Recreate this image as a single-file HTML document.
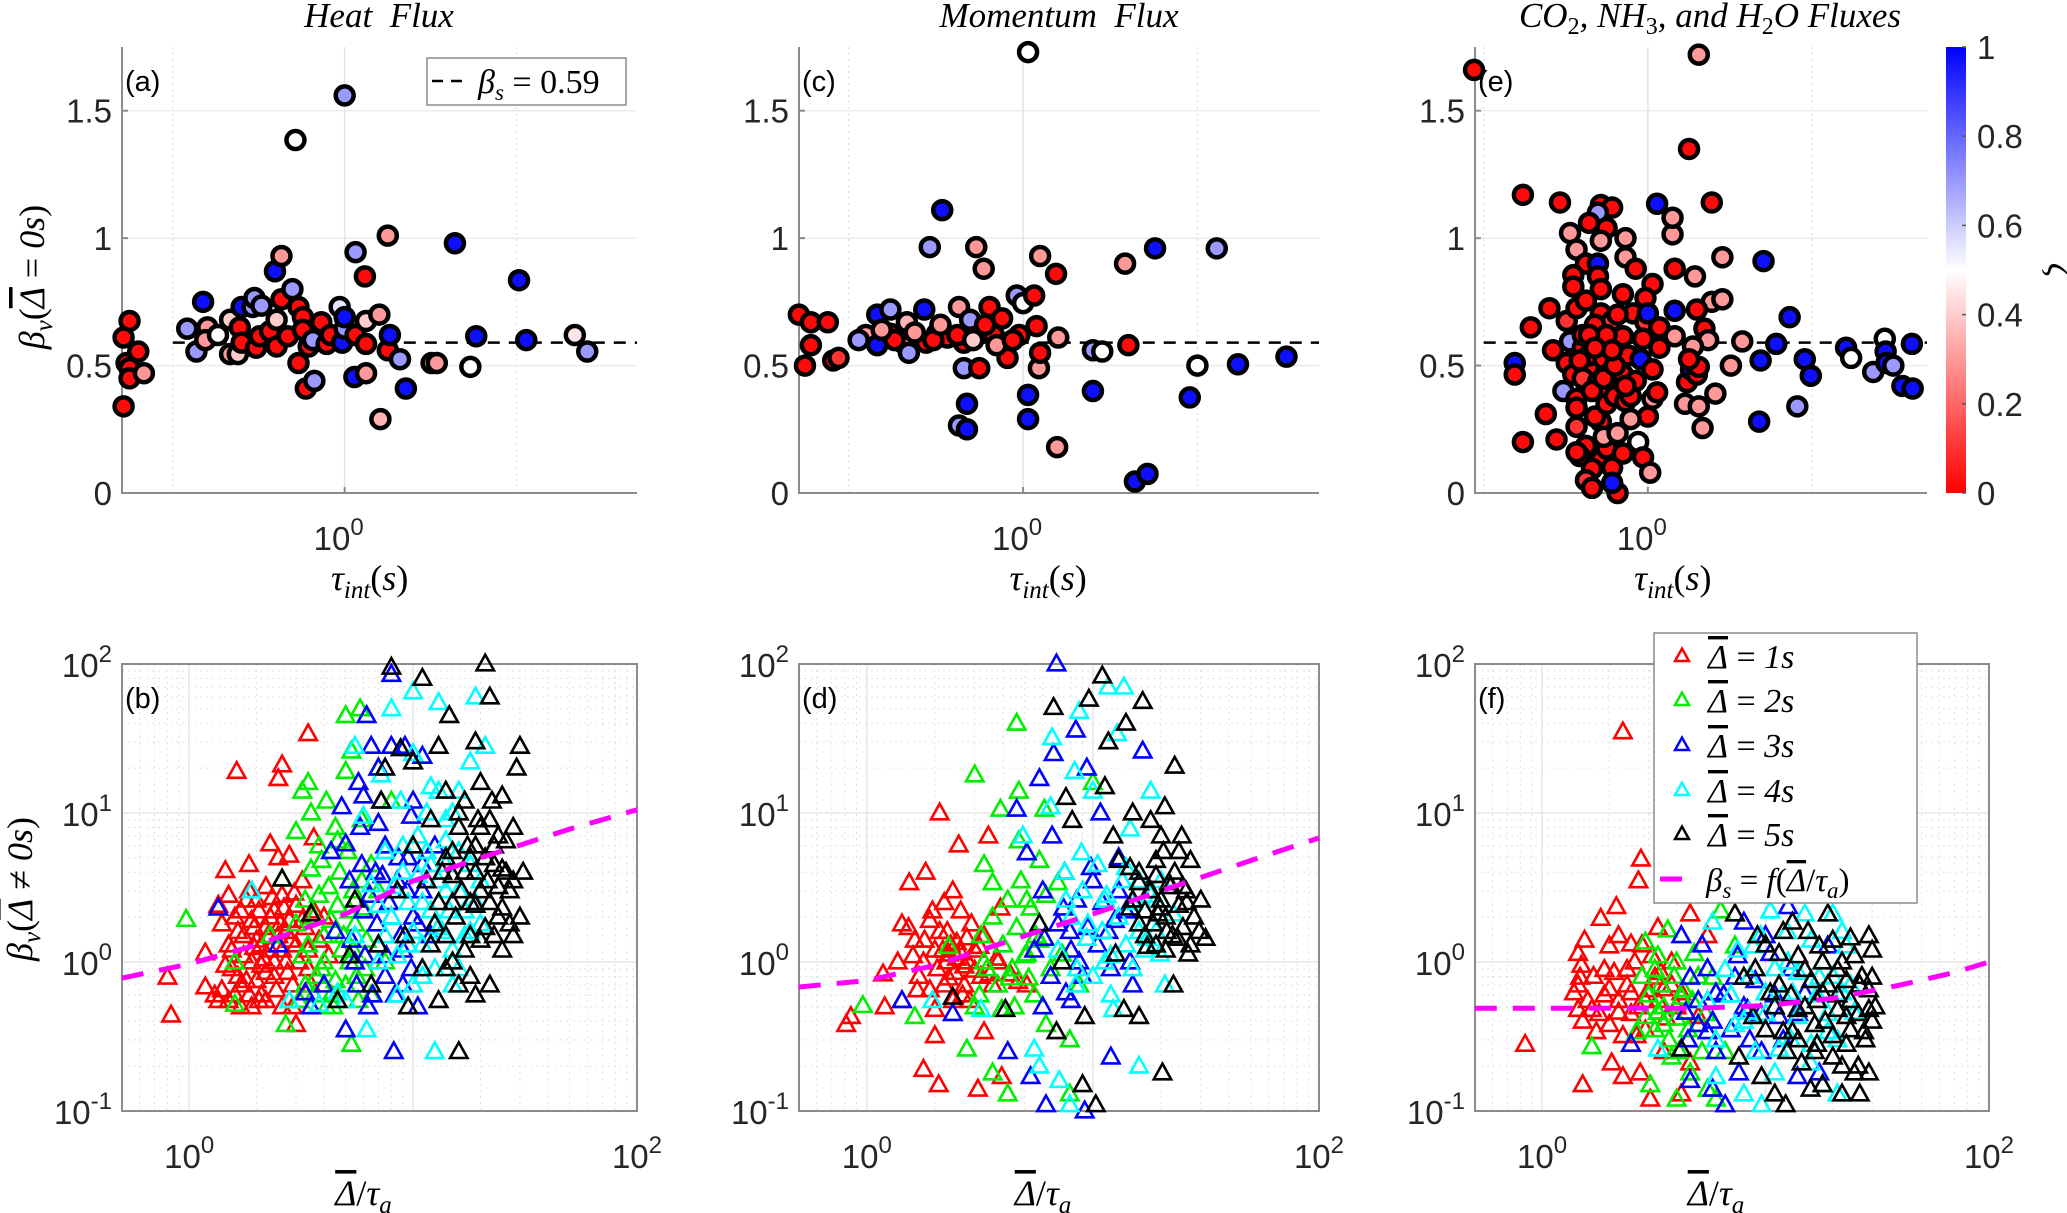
<!DOCTYPE html>
<html><head><meta charset="utf-8">
<style>
html,body{margin:0;padding:0;background:#fff;}
svg{display:block;}
.tick{font-family:"Liberation Sans",sans-serif;font-size:33px;fill:#262626;}
.math{font-family:"Liberation Serif",serif;font-style:italic;fill:#000;}
.lab{font-family:"Liberation Sans",sans-serif;font-size:29px;fill:#000;}
</style></head>
<body>
<svg id="fig" width="2067" height="1213" viewBox="0 0 2067 1213" xmlns="http://www.w3.org/2000/svg"></svg>
<script>
// ---------- top panel data: [tau_int, beta_v, zeta] ----------
const heatPoints = [[0.41,0.34,0.02],[0.42,0.675,0.02],[0.41,0.61,0.02],[0.415,0.51,0.02],[0.42,0.49,0.02],[0.435,0.555,0.02],[0.42,0.45,0.02],[0.445,0.47,0.3],[0.53,0.645,0.7],[0.55,0.555,0.7],[0.565,0.75,0.97],[0.575,0.65,0.3],[0.57,0.6,0.3],[0.6,0.62,0.5],[0.63,0.545,0.3],[0.63,0.68,0.4],[0.65,0.545,0.4],[0.66,0.73,0.97],[0.655,0.65,0.02],[0.66,0.59,0.02],[0.69,0.73,0.7],[0.695,0.765,0.7],[0.715,0.735,0.7],[0.7,0.57,0.02],[0.71,0.615,0.02],[0.74,0.635,0.02],[0.755,0.87,0.97],[0.76,0.68,0.4],[0.76,0.575,0.02],[0.775,0.93,0.3],[0.775,0.76,0.02],[0.795,0.615,0.02],[0.81,0.8,0.7],[0.82,1.385,0.5],[0.83,0.73,0.02],[0.83,0.51,0.02],[0.845,0.69,0.02],[0.845,0.64,0.02],[0.855,0.41,0.02],[0.865,0.575,0.02],[0.88,0.6,0.7],[0.885,0.44,0.7],[0.91,0.67,0.02],[0.93,0.585,0.02],[0.945,0.62,0.02],[0.98,0.73,0.55],[0.99,0.59,0.97],[1.0,0.645,0.7],[1.0,1.56,0.7],[1.0,0.69,0.97],[1.04,0.455,0.97],[1.045,0.945,0.7],[1.045,0.62,0.02],[1.085,0.85,0.02],[1.09,0.47,0.3],[1.09,0.675,0.4],[1.09,0.585,0.02],[1.15,0.7,0.3],[1.19,1.01,0.3],[1.19,0.56,0.02],[1.2,0.62,0.97],[1.155,0.29,0.35],[1.25,0.525,0.7],[1.28,0.41,0.97],[1.42,0.51,0.3],[1.45,0.51,0.3],[1.56,0.98,0.97],[1.66,0.495,0.5],[1.7,0.615,0.97],[2.02,0.835,0.97],[2.08,0.6,0.97],[2.53,0.62,0.45],[2.66,0.555,0.7]];
const momentumPoints = [[0.41,0.7,0.02],[0.42,0.5,0.02],[0.43,0.58,0.02],[0.43,0.67,0.02],[0.46,0.67,0.02],[0.47,0.52,0.02],[0.48,0.53,0.1],[0.535,0.62,0.3],[0.56,0.7,0.97],[0.56,0.58,0.97],[0.59,0.72,0.7],[0.59,0.625,0.02],[0.62,0.59,0.3],[0.63,0.67,0.35],[0.635,0.55,0.7],[0.675,0.72,0.97],[0.68,0.59,0.02],[0.69,0.965,0.7],[0.71,0.625,0.02],[0.725,1.11,0.97],[0.74,0.61,0.02],[0.775,0.73,0.3],[0.775,0.265,0.7],[0.79,0.49,0.7],[0.79,0.59,0.02],[0.8,0.35,0.97],[0.8,0.25,0.97],[0.81,0.68,0.7],[0.83,0.965,0.3],[0.84,0.49,0.02],[0.855,0.88,0.3],[0.875,0.73,0.02],[0.89,0.62,0.02],[0.92,0.685,0.02],[0.94,0.53,0.02],[0.975,0.775,0.7],[0.985,0.62,0.02],[1.0,0.745,0.5],[1.02,0.385,0.97],[1.02,0.29,0.97],[1.045,0.775,0.02],[1.055,0.655,0.02],[1.065,0.49,0.3],[1.07,0.93,0.3],[1.07,0.55,0.02],[1.14,0.86,0.02],[1.145,0.18,0.3],[1.15,0.61,0.3],[1.02,1.73,0.5],[1.32,0.56,0.7],[1.37,0.555,0.5],[1.32,0.4,0.97],[1.5,0.9,0.3],[1.52,0.58,0.02],[1.56,0.045,0.97],[1.64,0.075,0.97],[1.69,0.96,0.97],[1.94,0.375,0.97],[2.0,0.5,0.5],[2.16,0.96,0.7],[2.35,0.505,0.97],[2.85,0.535,0.97],[0.6,0.6,0.02],[0.65,0.63,0.3],[0.7,0.6,0.02],[0.72,0.66,0.3],[0.77,0.62,0.02],[0.82,0.6,0.4],[0.86,0.66,0.02],[0.9,0.58,0.3],[0.96,0.6,0.02],[0.52,0.6,0.7],[0.57,0.64,0.3]];
const scalarPoints = [[0.48,1.66,0.02],[1.24,1.72,0.3],[1.19,1.35,0.02],[0.59,1.17,0.02],[0.69,1.14,0.02],[0.82,1.13,0.02],[0.86,1.12,0.02],[0.81,1.1,0.7],[0.78,1.06,0.02],[0.84,1.04,0.02],[0.72,1.02,0.3],[0.82,0.99,0.3],[0.91,1.0,0.3],[0.74,0.955,0.3],[0.91,0.925,0.3],[0.77,0.9,0.02],[0.81,0.9,0.97],[0.95,0.88,0.02],[0.73,0.855,0.02],[0.81,0.85,0.02],[0.73,0.81,0.02],[0.82,0.8,0.02],[1.02,0.82,0.02],[0.66,0.725,0.02],[0.71,0.675,0.1],[0.61,0.65,0.02],[0.74,0.725,0.02],[0.77,0.755,0.02],[0.82,0.705,0.02],[0.86,0.675,0.1],[0.9,0.78,0.02],[0.94,0.705,0.02],[0.99,0.765,0.02],[0.99,0.67,0.1],[1.05,0.65,0.02],[1.0,0.705,0.97],[1.12,0.88,0.02],[1.11,1.015,0.3],[1.04,1.135,0.97],[1.11,1.08,0.3],[1.12,0.715,0.97],[1.12,0.615,0.3],[1.22,0.85,0.3],[1.31,1.14,0.02],[1.37,0.925,0.3],[1.31,0.75,0.3],[1.37,0.76,0.3],[1.23,0.72,0.02],[1.27,0.645,0.02],[1.29,0.6,0.3],[1.21,0.575,0.3],[0.67,0.56,0.02],[0.71,0.51,0.02],[0.72,0.595,0.7],[0.73,0.465,0.02],[0.7,0.4,0.7],[0.74,0.37,0.02],[0.74,0.335,0.02],[0.76,0.57,0.02],[0.78,0.495,0.02],[0.76,0.45,0.1],[0.78,0.54,0.02],[0.82,0.59,0.02],[0.83,0.525,0.02],[0.81,0.435,0.02],[0.85,0.47,0.02],[0.87,0.59,0.4],[0.88,0.53,0.02],[0.9,0.615,0.02],[0.9,0.465,0.02],[0.92,0.54,0.02],[0.95,0.44,0.02],[0.97,0.525,0.97],[0.98,0.605,0.02],[1.02,0.485,0.02],[1.02,0.37,0.3],[1.04,0.395,0.02],[1.05,0.57,0.02],[1.0,0.3,0.02],[0.93,0.29,0.3],[0.96,0.2,0.5],[0.98,0.14,0.02],[1.01,0.08,0.3],[0.85,0.395,0.02],[0.82,0.28,0.02],[0.8,0.3,0.02],[0.84,0.35,0.02],[0.87,0.38,0.02],[0.91,0.36,0.02],[0.93,0.38,0.02],[0.74,0.26,0.1],[0.77,0.185,0.02],[0.75,0.145,0.02],[0.74,0.16,0.02],[0.82,0.13,0.02],[0.84,0.175,0.02],[0.86,0.1,0.02],[0.79,0.095,0.02],[0.77,0.05,0.1],[0.79,0.02,0.02],[0.88,0.0,0.02],[0.86,0.04,0.97],[0.9,0.155,0.02],[0.83,0.22,0.3],[0.88,0.235,0.3],[0.65,0.31,0.02],[0.59,0.2,0.02],[0.68,0.21,0.02],[0.57,0.51,0.97],[0.57,0.465,0.02],[1.17,0.35,0.3],[1.18,0.435,0.02],[1.24,0.34,0.3],[1.26,0.255,0.3],[1.33,0.39,0.3],[1.2,0.485,0.97],[1.23,0.465,0.02],[1.24,0.495,0.02],[1.19,0.525,0.02],[1.42,0.5,0.3],[1.49,0.595,0.3],[1.61,0.52,0.97],[1.63,0.91,0.97],[1.72,0.585,0.97],[1.6,0.28,0.97],[1.82,0.69,0.97],[1.88,0.34,0.7],[1.94,0.525,0.97],[1.99,0.46,0.97],[2.31,0.57,0.97],[2.36,0.53,0.5],[2.59,0.475,0.7],[2.72,0.605,0.5],[2.73,0.555,0.97],[2.74,0.51,0.97],[2.82,0.5,0.7],[2.93,0.42,0.97],[3.06,0.41,0.97],[3.05,0.585,0.97],[0.76,0.62,0.02],[0.8,0.66,0.02],[0.84,0.62,0.02],[0.88,0.7,0.02],[0.79,0.4,0.02],[0.83,0.45,0.02],[0.87,0.5,0.02],[0.91,0.42,0.02],[0.78,0.62,0.02],[0.86,0.56,0.02],[0.8,0.57,0.02],[0.75,0.52,0.02]];
const betaS = 0.59;

// ---------- bottom panel data: [Delta/tau_a, beta_v] per Delta series ----------
const heatD1 = [[0.8,0.79],[0.83,0.44],[1.18,1.15],[1.18,0.68],[1.3,0.6],[1.35,0.55],[1.4,0.65],[1.35,2.4],[1.4,1.8],[1.45,4.1],[1.5,2.8],[1.5,1.3],[1.55,0.9],[1.6,0.6],[1.63,19],[1.65,1.6],[1.7,2.2],[1.75,1.1],[1.8,0.75],[1.85,4.5],[1.85,3.0],[1.9,1.9],[1.9,0.5],[2.0,1.4],[2.0,2.6],[2.1,0.95],[2.1,0.6],[2.2,3.2],[2.2,1.7],[2.3,6.2],[2.3,1.2],[2.4,2.2],[2.4,0.8],[2.5,17],[2.5,1.5],[2.5,5.0],[2.6,21],[2.6,2.8],[2.6,0.5],[2.7,1.0],[2.8,5.2],[2.8,1.9],[2.9,0.7],[3.0,2.4],[3.0,1.3],[3.1,0.55],[3.2,3.5],[3.3,1.7],[3.4,34],[3.4,0.9],[3.6,6.8],[3.6,2.2],[3.8,1.4],[4.0,2.0],[4.2,1.1],[2.2,0.55],[1.7,0.5],[2.0,0.75],[3.0,0.38],[2.3,2.0],[2.7,1.6],[1.95,1.25],[2.15,1.05],[1.45,0.95],[1.55,1.2],[1.6,2.0],[1.7,0.7],[1.75,1.5],[1.8,2.6],[1.85,0.6],[1.9,1.0],[1.95,1.7],[2.05,2.2],[2.05,0.55],[2.1,1.3],[2.2,0.85],[2.25,1.5],[2.35,2.7],[2.4,1.0],[2.45,0.65],[2.55,1.8],[2.6,1.2],[2.65,2.3],[2.75,0.85],[2.85,1.4],[2.95,2.9],[3.1,1.0],[3.2,1.9],[3.4,1.2],[3.5,0.7],[1.5,0.55],[2.9,0.5],[1.65,0.8]];
const heatD2 = [[0.97,1.93],[1.6,0.52],[1.6,1.0],[2.3,1.5],[2.6,3.6],[2.7,0.38],[2.8,0.55],[3.0,7.5],[3.2,14],[3.2,1.1],[3.3,0.7],[3.4,16],[3.5,10],[3.5,4.2],[3.6,2.0],[3.8,6.0],[3.9,0.9],[4.0,1.5],[4.1,12],[4.2,3.2],[4.3,0.6],[4.5,8.0],[4.6,2.4],[4.8,1.2],[5.0,19],[5.0,45],[5.1,5.5],[5.3,26],[5.3,0.28],[5.4,3.0],[5.5,1.8],[5.6,0.8],[5.8,50],[5.9,9.0],[6.0,2.3],[6.2,1.4],[6.5,4.5],[6.5,0.6],[7.0,20],[7.0,3.0],[7.5,1.0],[8.0,12],[4.4,0.5],[3.7,0.8],[5.2,1.0],[3.0,1.8],[3.1,0.55],[3.3,2.6],[3.4,1.3],[3.6,0.6],[3.8,2.8],[4.0,1.0],[4.1,0.5],[4.3,1.9],[4.5,0.75],[4.7,4.0],[4.9,1.5],[5.0,0.7],[5.2,2.2],[5.4,1.2],[5.7,0.55],[5.9,3.5],[6.1,0.9],[4.6,6.5],[3.9,4.8]];
const heatD3 = [[1.35,2.3],[2.5,1.3],[3.3,0.62],[3.5,0.5],[4.0,0.7],[4.3,5.5],[4.5,1.6],[4.8,11],[5.0,6.2],[5.0,0.35],[5.2,3.5],[5.5,1.0],[5.7,16],[5.8,8.0],[6.0,2.2],[6.2,45],[6.3,0.5],[6.5,28],[6.8,4.0],[7.0,1.3],[7.2,12],[7.5,6.0],[7.5,0.8],[7.8,2.5],[8.0,85],[8.0,28],[8.2,0.25],[8.5,3.5],[8.8,1.5],[9.0,0.7],[9.2,28],[9.5,5.0],[10,2.0],[10,12],[10.5,0.5],[11,3.0],[11,24],[12,1.5],[12.5,6],[9.8,9.5],[7.0,8.5],[5.3,1.4],[5.6,0.7],[5.9,4.5],[6.1,1.1],[6.4,2.8],[6.6,0.6],[6.9,1.8],[7.3,3.8],[7.6,1.1],[8.0,2.0],[8.3,0.6],[8.6,5],[9.0,1.2],[9.4,3],[9.8,0.9],[10.5,1.8],[11,4.5],[6.0,13],[7.0,20]];
const heatD4 = [[1.9,3.0],[2.8,0.55],[3.8,0.52],[4.6,0.62],[5.0,0.55],[5.5,1.5],[5.5,28],[6.0,9.5],[6.2,0.35],[6.5,3.3],[7.0,1.0],[7.2,18],[7.5,5.5],[8.0,50],[8.0,2.0],[8.5,0.6],[8.8,12],[9.0,4.0],[9.5,1.3],[10,65],[10,25],[10.5,7],[11,2.5],[11,0.8],[12,15],[12,4.5],[12.5,0.25],[13,1.7],[13,55],[14,9],[14,3],[15,0.7],[15,1.2],[16,5.5],[16,14],[17,2.2],[18,22],[19,60],[21,28],[18,1.6],[20,3.5],[14,6.5],[11.5,10],[16,0.9],[7.0,2.4],[7.5,1.5],[8.2,3.2],[8.5,1.1],[9,6],[9.5,2.5],[10,1.6],[10,0.7],[10.5,3.8],[11,1.3],[11.5,5.5],[12,2.2],[12.5,0.9],[13,3.5],[13.5,1.6],[14,4.5],[14.5,2.2],[15,1.0],[16,3],[17,1.5],[18,4.5],[19,2.5],[20,1.8],[13,14],[15,10]];
const heatD5 = [[2.6,3.6],[3.5,2.1],[4.6,0.55],[5.2,1.1],[5.5,2.6],[6.5,0.7],[7.0,1.3],[7.2,12],[7.5,20],[8.0,95],[8.5,3.0],[8.8,27],[9.2,1.5],[9.5,0.5],[10,22],[10,6],[11,0.9],[11,80],[11.5,3.5],[12,9],[12.5,1.8],[13,28],[13,0.55],[14,5],[14,14],[14.5,45],[15,2.5],[15,1.0],[16,8],[16,0.25],[17,4],[17,12],[18,1.5],[18,0.8],[19,30],[19,6],[20,3],[20,16],[21,1.7],[21,100],[22,9],[22,60],[23,4.5],[24,2.0],[25,13],[25,1.2],[26,6.5],[27,3],[28,8],[29,20],[30,2],[31,4],[30,28],[20,8],[23,6],[18,5],[15,3.8],[25,4.2],[19,2.4],[28,1.5],[12,1.3],[13,2.5],[13.5,4],[14,1.5],[15,5.5],[15.5,2],[16,10],[16.5,3],[17,1.2],[17.5,6],[18,2.5],[19,4],[19.5,9],[20,1.4],[21,5],[21.5,3.5],[22,2.5],[22.5,12],[23,1.5],[24,7],[24,3.2],[25,2.3],[26,4],[27,1.8],[28,3.5],[22,0.7],[16,0.7],[14,0.9],[19,0.6]];
const momD1 = [[0.81,0.38],[0.85,0.43],[1.18,0.83],[1.2,0.5],[1.37,1.0],[1.54,3.4],[1.43,1.8],[1.53,1.7],[1.63,1.4],[1.67,0.65],[1.43,0.55],[1.78,1.0],[1.82,4.0],[1.95,2.2],[2.0,0.48],[2.1,10],[2.17,1.2],[2.27,1.6],[2.3,0.78],[2.4,3.0],[2.5,1.06],[2.55,6.1],[2.65,0.6],[2.77,1.45],[2.9,1.8],[3.0,0.88],[2.0,0.32],[1.78,0.19],[2.08,0.15],[3.1,0.14],[3.3,0.34],[3.45,7],[3.5,0.83],[3.9,2.3],[3.95,0.17],[4.3,0.83],[5.1,0.7],[2.5,1.35],[2.3,1.13],[2.7,0.94],[3.15,1.27],[3.76,1.06],[4.67,0.74],[1.6,1.1],[1.7,0.8],[1.8,1.4],[1.9,0.65],[2.0,1.2],[2.05,0.9],[2.1,1.6],[2.2,0.7],[2.25,1.0],[2.35,1.3],[2.4,0.55],[2.45,0.85],[2.6,1.15],[2.7,0.7],[2.8,1.0],[2.85,0.55],[3.0,1.2],[3.2,0.8],[3.3,1.5],[3.6,0.7],[3.8,1.0],[2.2,2.5],[1.9,1.9],[2.6,2.2]];
const momD2 = [[0.96,0.51],[1.63,0.43],[2.3,1.27],[2.77,0.26],[3.0,18],[3.3,4.5],[3.6,3.4],[3.9,10.6],[3.95,0.48],[4.2,0.13],[3.6,0.18],[4.6,40],[4.7,6.5],[4.7,14],[5.1,2.6],[5.2,0.78],[5.6,1.5],[6.1,10.6],[6.2,0.38],[7.0,3.4],[7.3,1.13],[7.9,0.3],[7.9,0.13],[8.7,0.7],[10,16],[3.3,1.0],[4.3,0.78],[5.8,4.8],[3.15,0.6],[5.1,1.13],[3.2,1.5],[3.4,0.9],[3.6,2.0],[3.8,0.7],[4.0,1.3],[4.2,2.6],[4.4,0.9],[4.6,1.7],[4.8,3.5],[5.0,1.1],[5.3,2.3],[5.5,0.6],[5.8,1.4],[6.2,2.8],[6.5,0.9],[3.0,0.5],[4.5,0.5]];
const momD3 = [[1.43,0.55],[2.4,0.45],[4.2,0.25],[4.6,10.6],[5.1,5.4],[5.3,0.17],[5.8,17],[6.1,1.44],[6.2,0.11],[6.6,7],[6.7,25],[6.9,100],[7.4,2.3],[7.6,0.62],[8.4,36],[8.7,1.0],[9.2,0.1],[9.4,20],[9.8,4.3],[10.8,10],[12,0.23],[13,3],[14.6,1.0],[16.6,26],[15,0.7],[7.9,1.6],[11.7,1.6],[5.5,1.2],[6,3],[6.5,0.8],[7,1.8],[7.5,4],[8,1.2],[8.5,2.6],[9,0.8],[9.5,1.7],[10,3.5],[10.5,1.3],[11,2.5],[12,0.9],[12.5,1.9],[13,5],[14,2.2],[6,0.5],[8,0.55]];
const momD4 = [[1.95,0.55],[3.2,0.48],[4.9,7],[5.5,0.26],[5.8,0.2],[6.5,11],[6.6,32],[7.1,0.16],[7.6,2.6],[7.9,0.11],[8.3,19],[8.4,0.7],[8.7,48],[8.9,5.4],[9.4,1.44],[10,14],[11.3,2.6],[11.7,70],[12.3,0.48],[12.8,34],[13.7,70],[14.6,7.8],[16,0.2],[16,1.6],[18,14],[19,2.6],[19.8,1.13],[20.8,0.7],[22.7,2.1],[11.3,1.0],[14,4.3],[17.4,1.44],[7,1.2],[7.5,4],[8,2],[8.5,0.9],[9,3],[9.5,1.8],[10,0.8],[10.5,4.5],[11,1.6],[11.5,2.8],[12,1.1],[13,2],[13.5,3.5],[14,1.3],[15,2.5],[16,3.5],[17,1.2],[18,2.8],[19,1.6],[20,3.5],[12,0.6],[15,0.9]];
const momD5 = [[2.4,0.58],[4.1,0.48],[5.8,1.8],[6.9,0.34],[7.3,1.0],[6.7,51],[7.6,12.7],[8.1,8.9],[9.0,0.15],[9.2,0.43],[9.6,58],[10.3,0.11],[11,83],[11.3,15],[11.7,30],[12.3,7],[12.6,1.13],[13,4.8],[13.7,0.48],[14,40],[14.6,2.3],[15,10],[16,3.4],[16,0.43],[16.6,56],[17.4,1.27],[18,8.9],[19,4.8],[19.8,2.3],[20.3,0.18],[20.8,11],[21.7,3.4],[22.7,0.7],[23,20.6],[23.7,1.44],[24.7,7],[25.8,3],[26.4,1.13],[27,4.8],[29.5,1.6],[31.5,1.44],[17.8,3],[19.4,2.1],[16,1.8],[21.2,1.6],[14.6,4.3],[15,2.6],[16,4],[17,2.2],[18,3],[18.5,1.8],[19,3.8],[20,2.6],[20.5,5.5],[21,2],[22,3.2],[22.5,1.5],[23,4],[24,2.4],[25,3.2],[25,1.7],[26,2.5],[28,2],[30,2.6],[19,1.3],[17,1.5],[21,1.2],[24,5.5],[20,7],[27,1.3]];
const scD1 = [[0.84,0.28],[1.52,0.15],[2.3,35],[2.77,4.9],[2.7,3.5],[2.15,2.35],[1.83,1.96],[1.55,1.4],[1.45,1.14],[1.48,0.79],[1.39,0.62],[1.45,0.48],[1.52,0.4],[1.67,0.48],[1.75,0.34],[2.0,1.28],[2.0,0.66],[2.05,0.21],[2.2,0.46],[2.3,0.17],[2.5,1.32],[2.5,0.62],[2.65,0.32],[2.75,0.18],[3.05,0.12],[3.2,0.79],[3.3,1.7],[3.3,0.46],[3.5,0.25],[3.8,1.0],[4.2,0.62],[4.6,2.1],[4.6,0.21],[5.0,0.43],[5.5,1.5],[4.2,0.13],[1.9,0.89],[2.9,0.55],[2.4,0.89],[3.5,0.66],[1.6,0.55],[1.7,0.8],[1.8,0.45],[1.9,0.6],[2.0,0.38],[2.1,0.85],[2.2,0.55],[2.3,0.32],[2.4,0.7],[2.5,0.45],[2.6,1.0],[2.7,0.5],[2.8,0.8],[2.9,0.35],[3.0,0.65],[3.1,1.1],[3.3,0.55],[3.4,0.85],[3.6,0.42],[3.8,0.7],[4.0,0.5],[1.5,0.95],[1.45,0.7],[2.2,1.5],[2.8,1.3]];
const scD2 = [[1.67,0.27],[2.65,0.34],[2.9,1.36],[3.05,0.15],[3.2,0.89],[3.3,0.46],[3.65,1.64],[3.8,0.23],[4.0,0.12],[4.2,0.58],[4.6,0.18],[4.8,1.14],[5.0,0.38],[5.5,0.14],[5.8,0.79],[6.0,0.12],[6.3,2.2],[6.6,0.25],[7.3,1.28],[2.9,0.43],[3.5,0.38],[4.4,0.46],[3.0,0.6],[3.2,0.35],[3.4,0.7],[3.5,0.5],[3.7,0.3],[3.9,0.8],[4.0,0.42],[4.1,0.25],[4.3,0.65],[4.5,0.35],[4.7,0.55],[5.0,0.8],[5.2,0.25],[5.4,0.45],[3.3,1.1],[4.0,1.0],[2.8,0.8]];
const scD3 = [[2.5,0.28],[4.2,1.5],[4.4,0.46],[4.6,0.79],[4.6,0.16],[5.5,0.34],[5.8,0.14],[6.6,0.11],[7.3,0.79],[7.6,0.18],[8.0,1.85],[8.3,0.48],[9.6,0.25],[10.5,1.14],[11.5,0.43],[12.6,2.35],[13.9,0.17],[15,0.62],[17.4,0.18],[19,1.28],[5.0,0.38],[6.0,0.62],[5,0.55],[5.5,0.9],[5.8,0.4],[6,0.25],[6.5,0.6],[7,0.35],[7.5,1.1],[8,0.5],[8.5,0.3],[9,0.75],[9.5,0.45],[10,1.5],[11,0.6],[12,0.3],[13,0.9],[14,0.45],[4.5,0.3],[5.2,1.3]];
const scD4 = [[3.3,0.26],[5.5,0.55],[5.8,1.85],[6.0,0.17],[6.6,0.89],[7.3,0.38],[8.0,0.13],[8.8,1.28],[9.6,0.11],[10,0.62],[10.5,2.2],[11.5,0.26],[12.6,1.0],[13.9,0.43],[15,2.1],[15.9,0.21],[17.4,0.79],[19,0.34],[20,2.1],[21,0.13],[22,0.62],[23,1.28],[25,0.46],[18,0.15],[8.4,0.46],[13.2,0.62],[6,0.3],[7,0.6],[7.5,1.2],[8,0.4],[8.5,0.8],[9,0.25],[9.5,1.5],[10,0.45],[11,0.9],[11,0.18],[12,0.6],[12.5,1.6],[13,0.3],[14,0.85],[15,0.5],[16,1.4],[16,0.28],[17,0.6],[18,1.0],[19,0.45],[20,0.8],[21,0.3],[22,1.6],[24,0.7]];
const scD5 = [[4.2,0.26],[7.3,2.1],[7.6,0.23],[8.0,0.79],[8.8,0.43],[9.2,1.5],[9.6,0.17],[10.5,0.62],[11,0.13],[11.5,1.14],[12,0.34],[12.3,0.11],[13.2,1.85],[13.9,0.48],[14.5,0.21],[15,0.89],[15.9,0.14],[16.6,0.38],[17.4,1.28],[18,0.62],[19,2.1],[20,0.23],[21,0.89],[22,0.13],[23,0.43],[24,1.45],[25,0.18],[26.4,0.7],[26.4,0.13],[27.6,0.34],[29,1.5],[29,0.18],[29,0.48],[30,0.79],[30,0.4],[21,0.48],[16.6,0.25],[13.2,0.34],[23,0.28],[9,0.9],[10,0.35],[10,1.3],[11,0.5],[11.5,0.7],[12,1.6],[12.5,0.25],[13,0.6],[14,1.1],[14,0.3],[15,0.5],[15.5,1.6],[16,0.75],[17,0.28],[17,0.55],[18,1.0],[18.5,0.4],[19,0.7],[20,1.4],[20,0.32],[21,0.6],[22,1.0],[22,0.2],[23,0.75],[24,0.35],[24,0.55],[25,1.1],[26,0.45],[27,0.8],[28,0.3],[29,0.65],[30,1.2],[31,0.5],[18,0.15],[26,0.2]];
// fitted beta_s = f(Delta/tau_a) curves
const heatCurve = [[0.5,0.78],[1,0.97],[2,1.3],[5,2.1],[10,3.5],[20,5],[50,7.8],[100,10.5]];
const momCurve = [[0.5,0.68],[1,0.75],[2,0.95],[5,1.5],[10,2.1],[20,3.0],[50,4.8],[100,6.8]];
const scCurve = [[0.5,0.49],[2,0.49],[5,0.49],[10,0.51],[20,0.57],[40,0.7],[70,0.85],[100,1.0]];
const seriesColors = ['#ff0000','#00ee00','#0000ff','#00ffff','#000000'];
const seriesLabels = ['1s','2s','3s','4s','5s'];
const topYTicks = [0,0.5,1,1.5];
const topYTickLabels = ['0','0.5','1','1.5'];
const cbTicks = [0,0.2,0.4,0.6,0.8,1];
const cbTickLabels = ['0','0.2','0.4','0.6','0.8','1'];

const NS='http://www.w3.org/2000/svg';
const svg=document.getElementById('fig');
function mk(tag,attrs,parent){const e=document.createElementNS(NS,tag);for(const k in attrs)e.setAttribute(k,attrs[k]);(parent||svg).appendChild(e);return e;}
function zetaColor(z){let r,g,b;if(z<0.5){const t=z/0.5;r=255;g=Math.round(255*t);b=Math.round(255*t);}else{const t=(z-0.5)/0.5;r=Math.round(255*(1-t));g=Math.round(255*(1-t));b=255;}return 'rgb('+r+','+g+','+b+')';}

const topPanels=[
 {id:'a',x0:122,x1:637,l0:-0.39,l1:0.512,pts:heatPoints,title:'Heat Flux',tx:379},
 {id:'c',x0:799,x1:1319,l0:-0.387,l1:0.511,pts:momentumPoints,title:'Momentum Flux',tx:1059},
 {id:'e',x0:1475,x1:1927,l0:-0.317,l1:0.512,pts:scalarPoints,title:null,tx:1710}];
const TY0=493,TY1=47,TYMAX=1.75;
function topY(v){return TY0-(v/TYMAX)*(TY0-TY1);}
function topX(p,v){return p.x0+(Math.log10(v)-p.l0)/(p.l1-p.l0)*(p.x1-p.x0);}

topPanels.forEach(p=>{
 const g=mk('g',{});
 
 
 topYTicks.forEach(t=>{if(t>0){const l=mk('line',{x1:p.x0,x2:p.x1,y1:topY(t),y2:topY(t),stroke:'#ececec','stroke-width':1.5},g);}});
 [0.5,1,2].forEach(v=>{const l=mk('line',{x1:topX(p,v),x2:topX(p,v),y1:TY1,y2:TY0,stroke:'#e4e4e4','stroke-width':1.5,'stroke-dasharray':v===1?'':'2,4'},g);});
 const ax=mk('path',{d:`M${p.x0},${TY1}V${TY0}H${p.x1}`,fill:'none',stroke:'#8c8c8c','stroke-width':2},g);
 
 topYTicks.forEach((t,i)=>{mk('line',{x1:p.x0,x2:p.x0+6,y1:topY(t),y2:topY(t),stroke:'#8c8c8c','stroke-width':2},g);
  const tx=mk('text',{x:p.x0-10,y:topY(t)+12,'text-anchor':'end',class:'tick'},g);tx.textContent=topYTickLabels[i];});
 mk('line',{x1:topX(p,1),x2:topX(p,1),y1:TY0,y2:TY0-6,stroke:'#8c8c8c','stroke-width':2},g);
 const xt=mk('text',{x:topX(p,1)-6,y:550,'text-anchor':'middle',class:'tick'},g);xt.innerHTML='10<tspan dy="-15" font-size="24">0</tspan>';
 
 const xl=mk('text',{x:topX(p,1)+25,y:590,'text-anchor':'middle',class:'math','font-size':36},g);
 xl.innerHTML='τ<tspan dy="8" font-size="25">int</tspan><tspan dy="-8" font-style="normal">(</tspan>s<tspan font-style="normal">)</tspan>';
 
 const dl=mk('line',{x1:topX(p,0.5),x2:p.x1,y1:topY(betaS),y2:topY(betaS),stroke:'#000','stroke-width':2.5,'stroke-dasharray':'12,9'},g);
 
 p.pts.forEach(d=>{const c=mk('circle',{cx:topX(p,d[0]),cy:topY(d[1]),r:9,fill:zetaColor(d[2]),stroke:'#000','stroke-width':4.5},g);
  
  });
 const pl=mk('text',{x:p.x0+3,y:91,class:'lab'},g);pl.textContent='('+p.id+')';
 if(p.title){const t=mk('text',{x:p.tx,y:27,'text-anchor':'middle',class:'math','font-size':35},g);t.textContent=p.title.replace(' ','\u00a0\u00a0');}
});
(function(){const t=mk('text',{x:1710,y:27,'text-anchor':'middle',class:'math','font-size':35});
 t.innerHTML='CO<tspan dy="7" font-size="24" font-style="normal">2</tspan><tspan dy="-7">,  NH</tspan><tspan dy="7" font-size="24" font-style="normal">3</tspan><tspan dy="-7">,  and  H</tspan><tspan dy="7" font-size="24" font-style="normal">2</tspan><tspan dy="-7">O  Fluxes</tspan>';
 })();
(function(){const t=mk('text',{x:0,y:0,'text-anchor':'middle',class:'math','font-size':36,transform:'translate(44,277) rotate(-90)'});
 t.innerHTML='β<tspan dy="8" font-size="25">v</tspan><tspan dy="-8" font-style="normal">(</tspan><tspan text-decoration="overline">Δ</tspan><tspan font-style="normal"> = </tspan>0s<tspan font-style="normal">)</tspan>';
 })();
(function(){const g=mk('g',{});
 mk('rect',{x:427,y:58,width:199,height:47,fill:'#fff',stroke:'#8c8c8c','stroke-width':1.5},g);
 mk('line',{x1:432,x2:468,y1:81,y2:81,stroke:'#000','stroke-width':2.5,'stroke-dasharray':'11,8'},g);
 const t=mk('text',{x:478,y:93,class:'math','font-size':34},g);t.innerHTML='β<tspan dy="7" font-size="23">s</tspan><tspan dy="-7" font-style="normal"> = 0.59</tspan>';})();
(function(){const g=mk('g',{});
 const defs=mk('defs',{},g);const lg=mk('linearGradient',{id:'cb',x1:0,y1:1,x2:0,y2:0},defs);
 mk('stop',{offset:'0','stop-color':'#ff0000'},lg);mk('stop',{offset:'0.5','stop-color':'#ffffff'},lg);mk('stop',{offset:'1','stop-color':'#0000ff'},lg);
 mk('rect',{x:1946,y:47,width:20,height:446,fill:'url(#cb)'},g);
 cbTicks.forEach((t,i)=>{const y=493-t*446;mk('line',{x1:1962,x2:1966,y1:y,y2:y,stroke:'#555','stroke-width':1.5},g);
  const tx=mk('text',{x:1977,y:y+12,class:'tick'},g);tx.textContent=cbTickLabels[i];});
 const z=mk('text',{x:0,y:0,'text-anchor':'middle',class:'math','font-size':36,transform:'translate(2048,270) rotate(90)'},g);z.textContent='ζ';})();

const botPanels=[
 {id:'b',x0:122,x1:637,series:[heatD1,heatD2,heatD3,heatD4,heatD5],curve:heatCurve},
 {id:'d',x0:799,x1:1319,series:[momD1,momD2,momD3,momD4,momD5],curve:momCurve},
 {id:'f',x0:1475,x1:1989,series:[scD1,scD2,scD3,scD4,scD5],curve:scCurve}];
const BY0=1111,BY1=664,BL0=-0.3,BL1=2;
function botY(v){return BY0-(Math.log10(v)+1)/3*(BY0-BY1);}
function botX(p,v){return p.x0+(Math.log10(v)-BL0)/(BL1-BL0)*(p.x1-p.x0);}
function tri(x,y,s){return `M${x},${y-s*0.62}L${x+s*0.58},${y+s*0.42}L${x-s*0.58},${y+s*0.42}Z`;}
botPanels.forEach(p=>{
 const g=mk('g',{});
 for(let d=-1;d<=1;d++)for(let m=1;m<10;m++){const v=m*Math.pow(10,d);const y=botY(v);
  mk('line',{x1:p.x0,x2:p.x1,y1:y,y2:y,stroke:m===1?'#e6e6e6':'#e2e2e2','stroke-width':m===1?1.5:1,'stroke-dasharray':m===1?'':'2,4'},g);}
 for(let d=-1;d<=1;d++)for(let m=1;m<10;m++){const v=m*Math.pow(10,d);if(v<0.5)continue;const x=botX(p,v);
  mk('line',{x1:x,x2:x,y1:BY1,y2:BY0,stroke:m===1?'#e6e6e6':'#e2e2e2','stroke-width':m===1?1.5:1,'stroke-dasharray':m===1?'':'2,4'},g);}
 const box=mk('rect',{x:p.x0,y:BY1,width:p.x1-p.x0,height:BY0-BY1,fill:'none',stroke:'#8c8c8c','stroke-width':2},g);
 
 [-1,0,1,2].forEach(e=>{const tx=mk('text',{x:p.x0-10,y:botY(Math.pow(10,e))+13,'text-anchor':'end',class:'tick'},g);
  tx.innerHTML='10<tspan dy="-15" font-size="24">'+e+'</tspan>';});
 [0,2].forEach(e=>{const tx=mk('text',{x:botX(p,Math.pow(10,e)),y:1168,'text-anchor':'middle',class:'tick'},g);
  tx.innerHTML='10<tspan dy="-15" font-size="24">'+e+'</tspan>';});
 const xl=mk('text',{x:(p.x0+p.x1)/2-16,y:1205,'text-anchor':'middle',class:'math','font-size':36},g);
 xl.innerHTML='<tspan text-decoration="overline">Δ</tspan><tspan font-style="normal">/</tspan>τ<tspan dy="8" font-size="25">a</tspan>';
 
 p.series.forEach((s,si)=>{s.forEach(d=>{const t=mk('path',{d:tri(botX(p,d[0]),botY(d[1]),15),fill:'none',stroke:seriesColors[si],'stroke-width':2.6},g);
  
  });});
 const cp=mk('path',{d:p.curve.map((c,i)=>(i?'L':'M')+botX(p,c[0]).toFixed(1)+','+botY(c[1]).toFixed(1)).join(''),fill:'none',stroke:'#ff00ff','stroke-width':5,'stroke-dasharray':'22,16'},g);
 
 const pl=mk('text',{x:p.x0+3,y:708,class:'lab'},g);pl.textContent='('+p.id+')';
});
(function(){const t=mk('text',{x:0,y:0,'text-anchor':'middle',class:'math','font-size':36,transform:'translate(32,889) rotate(-90)'});
 t.innerHTML='β<tspan dy="8" font-size="25">v</tspan><tspan dy="-8" font-style="normal">(</tspan><tspan text-decoration="overline">Δ</tspan><tspan font-style="normal"> ≠ </tspan>0s<tspan font-style="normal">)</tspan>';
 })();
(function(){const g=mk('g',{});
 mk('rect',{x:1654,y:633,width:263,height:270,fill:'#fff',stroke:'#8c8c8c','stroke-width':1.5},g);
 const ys=[656,700,745,790,834,879];
 seriesLabels.forEach((lab,i)=>{const e=mk('g',{},g);
  mk('path',{d:tri(1682,ys[i],12),fill:'none',stroke:seriesColors[i],'stroke-width':2.5},e);
  const t=mk('text',{x:1708,y:ys[i]+12,class:'math','font-size':34},e);
  t.innerHTML='<tspan text-decoration="overline">Δ</tspan><tspan font-style="normal"> = </tspan>'+lab;});
 const e=mk('g',{},g);
 mk('line',{x1:1660,x2:1682,y1:879,y2:879,stroke:'#ff00ff','stroke-width':5},e);
 const t=mk('text',{x:1706,y:891,class:'math','font-size':33},e);
 t.innerHTML='β<tspan dy="7" font-size="23">s</tspan><tspan dy="-7" font-style="normal"> = </tspan>f<tspan font-style="normal">(</tspan><tspan text-decoration="overline">Δ</tspan><tspan font-style="normal">/</tspan>τ<tspan dy="7" font-size="23">a</tspan><tspan dy="-7" font-style="normal">)</tspan>';})();
</script>
</body></html>
